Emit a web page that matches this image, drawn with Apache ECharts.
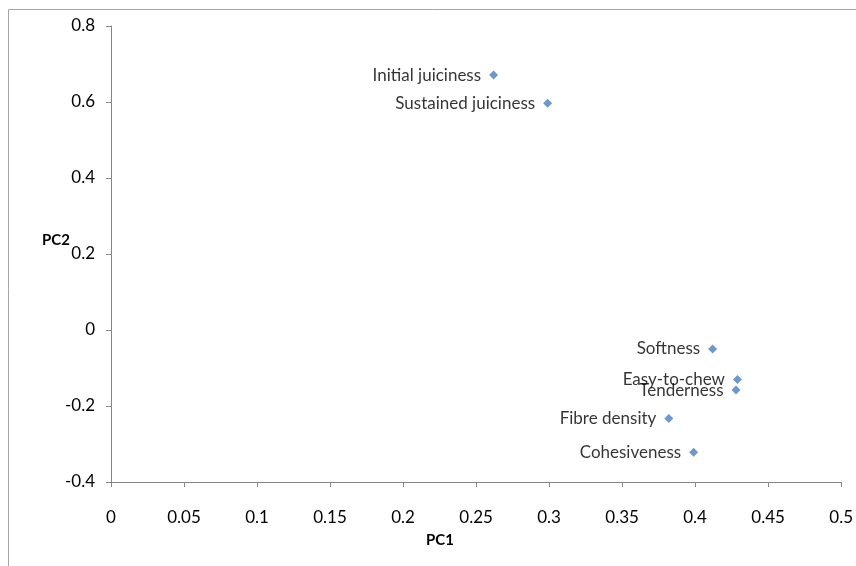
<!DOCTYPE html>
<html>
<head>
<meta charset="utf-8">
<script src="https://cdn.jsdelivr.net/npm/echarts@6/dist/echarts.min.js"></script>
<style>
  html, body { margin: 0; padding: 0; background: #fff; }
  #chart { width: 856px; height: 566px; }
</style>
</head>
<body>
<div id="chart"></div>
<script>
// attribute loadings
const names = ['Initial juiciness', 'Sustained juiciness', 'Softness', 'Easy-to-chew', 'Tenderness', 'Fibre density', 'Cohesiveness']
const pc1 = [0.262, 0.299, 0.412, 0.429, 0.428, 0.382, 0.399]
const pc2 = [0.671, 0.597, -0.050, -0.130, -0.158, -0.233, -0.322]

const axisGray = '#868686'
const font = 'Lato'
const fs = 17

const chart = echarts.init(document.getElementById('chart'))
const points = names.map((n, i) => ({ name: n, value: [pc1[i], pc2[i]] }))

// axis titles sit off-centre like the excel original
const titleStyle = { fontFamily: font, fontWeight: 'bold', fontSize: 15, fill: '#000', align: 'center', verticalAlign: 'middle' }

chart.setOption({
  animation: false,
  graphic: [{
    type: 'rect',
    shape: { x: 8.5, y: 9.5, width: 900, height: 600 },
    style: { fill: 'none', stroke: '#a6a6a6', lineWidth: 1 }
  }, {
    type: 'text', x: 440, y: 540,
    style: Object.assign({ text: 'PC1' }, titleStyle)
  }, {
    type: 'text', x: 56, y: 240,
    style: Object.assign({ text: 'PC2' }, titleStyle)
  }],
  grid: { left: 111, top: 26, right: 13, bottom: 84 },
  xAxis: {
    type: 'value',
    min: 0, max: 0.5, interval: 0.05,
    axisLine: { onZero: false, lineStyle: { color: axisGray } },
    axisTick: { length: 5, lineStyle: { color: axisGray } },
    axisLabel: { fontFamily: font, fontSize: fs, color: '#000', margin: 27 },
    splitLine: { show: false }
  },
  yAxis: {
    type: 'value',
    min: -0.4, max: 0.8, interval: 0.2,
    axisLine: { show: true, onZero: false, lineStyle: { color: axisGray } },
    axisTick: { show: true, length: 5, lineStyle: { color: axisGray } },
    axisLabel: { fontFamily: font, fontSize: fs, color: '#000', margin: 16 },
    splitLine: { show: false }
  },
  series: [{
    type: 'scatter',
    symbol: 'diamond',
    symbolSize: 9,
    itemStyle: { color: '#4a7ebb' },
    label: {
      show: true,
      position: 'left',
      distance: 8,
      formatter: '{b}',
      fontFamily: font,
      fontSize: fs,
      color: '#000'
    },
    data: points
  }]
})
</script>
</body>
</html>
